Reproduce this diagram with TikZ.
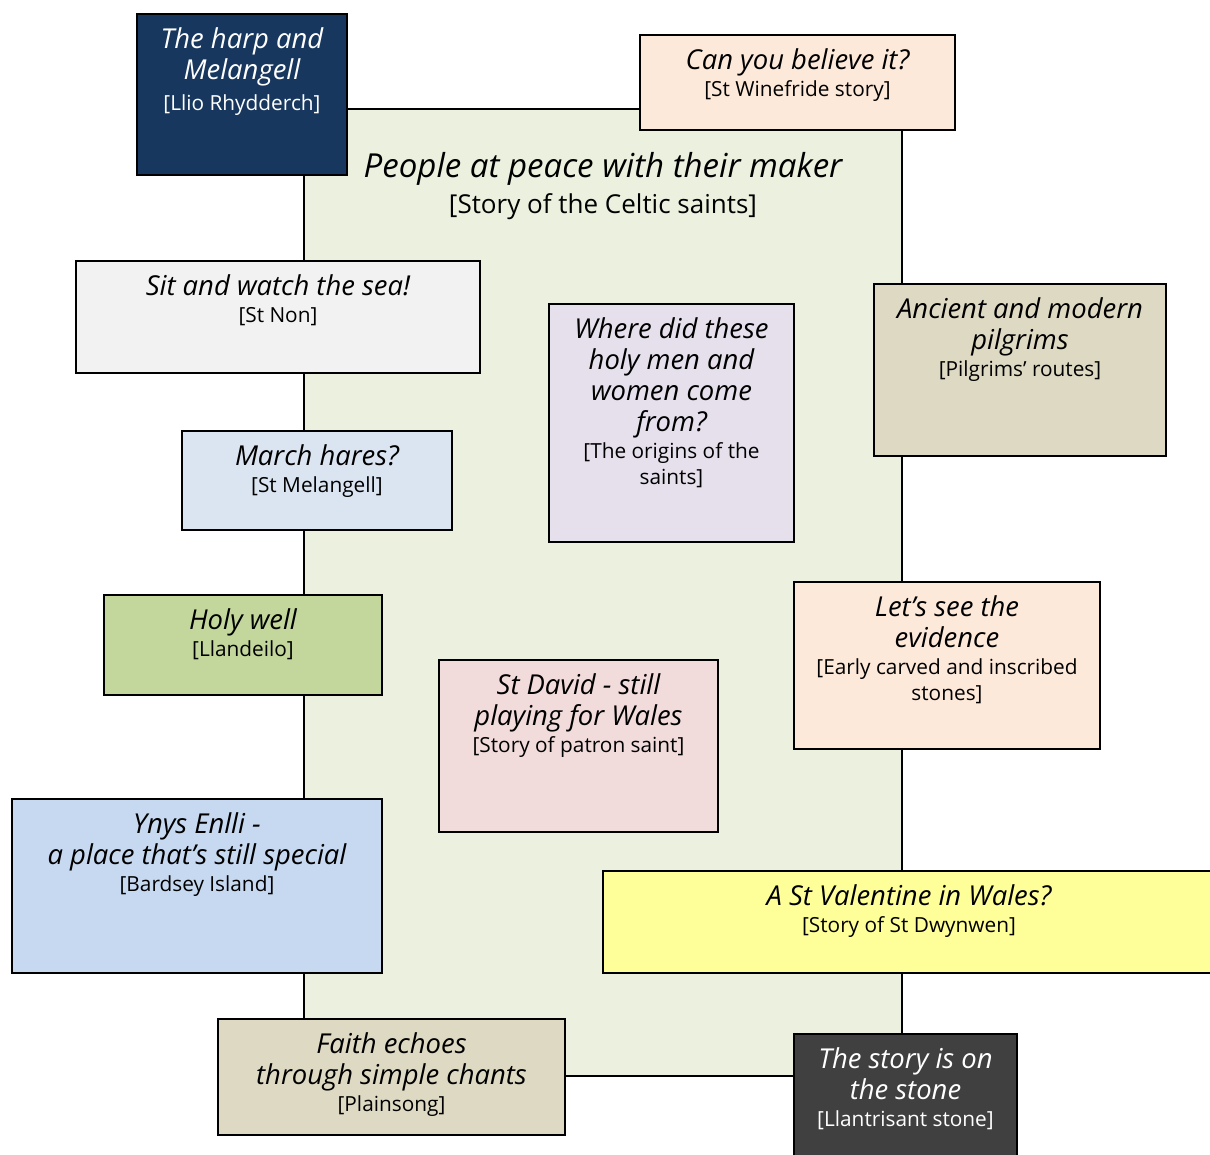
\documentclass[tikz,border=0pt]{standalone}
\usepackage{fontspec}
\setmainfont{Open Sans}
\usetikzlibrary{positioning}

\definecolor{harpblue}{HTML}{17375E}
\definecolor{peach}{HTML}{FDE9D9}
\definecolor{paper}{HTML}{F2F2F2}
\definecolor{lilac}{HTML}{E5E0EC}
\definecolor{stonetan}{HTML}{DDD9C3}
\definecolor{haze}{HTML}{DBE5F1}
\definecolor{moss}{HTML}{C3D69B}
\definecolor{rose}{HTML}{F2DCDB}
\definecolor{sky}{HTML}{C6D9F1}
\definecolor{lemon}{HTML}{FFFF99}
\definecolor{slate}{HTML}{404040}
\definecolor{meadow}{HTML}{EBF1DE}

\newcommand\srcfont{\upshape\fontsize{14.8}{19}\selectfont}

\tikzset{
  card/.style={draw=black, line width=1.2pt, anchor=north, inner sep=0pt},
  head/.style={anchor=north, align=center, inner sep=0pt,
    font=\fontsize{19.5}{22}\selectfont\itshape},
}

\begin{document}
\begin{tikzpicture}[x=0.025cm, y=-0.025cm]
\useasboundingbox (0,0) rectangle (1210,1155);
\clip (0,0) rectangle (1210,1155);

\node[card, fill=meadow, minimum width=14.95cm, minimum height=24.175cm] (saints) at (603,108) {};
\node[head, font=\fontsize{23.5}{26}\selectfont\itshape] (saintstext) at (603,152)
  {People at peace with their maker\\{\upshape\fontsize{18.5}{22}\selectfont [Story of the Celtic saints]}};

\node[card, fill=harpblue, minimum width=5.25cm, minimum height=4.025cm] (harp) at (242,13) {};
\node[head, text=white] (harptext) at ([yshift=-0.36cm]harp.north) {The harp and\\Melangell\\{\srcfont [Llio Rhydderch]}};

\node[card, fill=peach, minimum width=7.875cm, minimum height=2.375cm] (wine) at (797.5,34) {};
\node[head] (winetext) at ([yshift=-0.36cm]wine.north) {Can you believe it?\\[-3pt]{\srcfont [St Winefride story]}};

\node[card, fill=paper, minimum width=10.1cm, minimum height=2.8cm] (sea) at (278,260) {};
\node[head] (seatext) at ([yshift=-0.36cm]sea.north) {Sit and watch the sea!\\[-3pt]{\srcfont [St Non]}};

\node[card, fill=lilac, minimum width=6.125cm, minimum height=5.95cm] (where) at (671.5,303) {};
\node[head] (wheretext) at ([yshift=-0.36cm]where.north) {Where did these\\holy men and\\women come\\from?\\[-3pt]{\srcfont [The origins of the}\\[-3pt]{\srcfont saints]}};

\node[card, fill=stonetan, minimum width=7.3cm, minimum height=4.3cm] (pilg) at (1020,283) {};
\node[head] (pilgtext) at ([yshift=-0.36cm]pilg.north) {Ancient and modern\\pilgrims\\[-3pt]{\srcfont [Pilgrims’ routes]}};

\node[card, fill=haze, minimum width=6.75cm, minimum height=2.475cm] (march) at (317,430) {};
\node[head] (marchtext) at ([yshift=-0.36cm]march.north) {March hares?\\[-3pt]{\srcfont [St Melangell]}};

\node[card, fill=moss, minimum width=6.95cm, minimum height=2.5cm] (well) at (243,594) {};
\node[head] (welltext) at ([yshift=-0.36cm]well.north) {Holy well\\[-3pt]{\srcfont [Llandeilo]}};

\node[card, fill=peach, minimum width=7.65cm, minimum height=4.175cm] (evid) at (947,581) {};
\node[head] (evidtext) at ([yshift=-0.36cm]evid.north) {Let’s see the\\evidence\\[-3pt]{\srcfont [Early carved and inscribed}\\[-3pt]{\srcfont stones]}};

\node[card, fill=rose, minimum width=6.975cm, minimum height=4.3cm] (david) at (578.5,659) {};
\node[head] (davidtext) at ([yshift=-0.36cm]david.north) {St David - still\\playing for Wales\\[-3pt]{\srcfont [Story of patron saint]}};

\node[card, fill=sky, minimum width=9.25cm, minimum height=4.35cm] (enlli) at (197,798) {};
\node[head] (enllitext) at ([yshift=-0.36cm]enlli.north) {Ynys Enlli -\\a place that’s still special\\[-3pt]{\srcfont [Bardsey Island]}};

\node[card, fill=lemon, minimum width=15.3cm, minimum height=2.55cm] (valen) at (909,870) {};
\node[head] (valentext) at ([yshift=-0.36cm]valen.north) {A St Valentine in Wales?\\[-3pt]{\srcfont [Story of St Dwynwen]}};

\node[card, fill=stonetan, minimum width=8.675cm, minimum height=2.9cm] (faith) at (391.5,1018) {};
\node[head] (faithtext) at ([yshift=-0.36cm]faith.north) {Faith echoes\\through simple chants\\[-3pt]{\srcfont [Plainsong]}};

\node[card, fill=slate, minimum width=5.575cm, minimum height=3.55cm] (stone) at (905.5,1033) {};
\node[head, text=white] (stonetext) at ([yshift=-0.36cm]stone.north) {The story is on\\the stone\\[-3pt]{\srcfont [Llantrisant stone]}};
\end{tikzpicture}
\end{document}
